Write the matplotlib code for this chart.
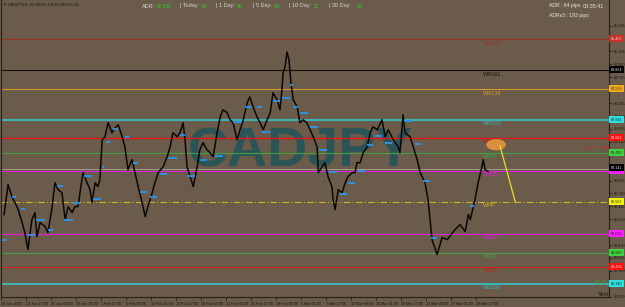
import matplotlib
matplotlib.use('Agg')
import matplotlib.pyplot as plt
from matplotlib.patches import Ellipse

# ---------------- data ----------------
bars = [8, 18, 28, 36, 44, 54, 61, 69, 79, 87, 92, 100, 113, 120, 131, 138, 146, 156, 164, 172,
        182, 189, 197, 207, 210, 220, 228, 233, 241, 248, 253, 259, 266, 274, 284, 292, 300, 310,
        317, 325, 335, 343, 351, 361, 369, 376, 387, 394, 402, 415, 425, 433, 440, 451, 458, 466,
        471, 476, 484, 492, 502, 509, 517, 527, 535, 543, 553, 561, 568, 579, 586, 594, 604, 612,
        620, 630, 637, 645, 655, 663, 671, 681, 689, 696, 707, 714, 719, 722, 727, 732, 737, 742,
        748, 758, 765, 773, 783, 791, 799, 809, 812, 822, 829, 837, 847, 850, 855, 863, 873, 881,
        888, 899, 906, 911, 919, 927, 937, 945, 952, 963, 975, 983, 991, 1004, 1016, 1021, 1029,
        1034, 1047, 1055, 1065, 1073, 1085, 1093, 1103, 1116, 1129, 1142, 1162, 1175, 1188, 1196,
        1201, 1213, 1221, 1231, 1234, 1239, 1247]
prices = [82.341, 82.863, 82.654, 82.550, 82.428, 82.202, 82.028, 81.732, 82.254, 82.376, 81.958,
          82.202, 82.132, 82.028, 82.480, 82.898, 82.776, 82.724, 82.254, 82.480, 82.376, 82.480,
          82.480, 82.950, 83.072, 82.898, 82.776, 82.550, 82.898, 82.828, 82.950, 83.646, 83.698,
          83.942, 83.768, 83.855, 83.907, 83.698, 83.524, 83.124, 83.298, 83.072, 82.828, 82.550,
          82.306, 82.480, 82.724, 82.898, 83.072, 83.176, 83.350, 83.524, 83.768, 83.698, 83.768,
          83.942, 83.646, 83.176, 83.002, 82.828, 83.176, 83.472, 83.594, 83.472, 83.420, 83.350,
          83.768, 84.046, 84.168, 84.116, 83.994, 83.942, 83.646, 83.820, 83.994, 84.290, 84.394,
          84.220, 84.046, 83.942, 83.820, 83.994, 84.116, 84.464, 84.342, 84.168, 84.516, 84.812,
          84.916, 85.177, 85.038, 84.638, 84.342, 84.220, 83.942, 83.994, 83.942, 83.820, 83.698,
          83.524, 83.072, 83.176, 83.246, 83.002, 82.828, 82.602, 82.428, 82.776, 82.724, 82.898,
          83.002, 83.072, 83.072, 83.246, 83.246, 83.420, 83.524, 83.768, 83.872, 83.820, 83.994,
          83.698, 83.820, 83.646, 83.524, 83.420, 84.081, 83.768, 83.698, 83.524, 83.298, 83.072,
          82.898, 82.602, 81.906, 81.645, 81.941, 81.906, 82.080, 82.167, 82.045, 82.341, 82.254,
          82.602, 82.898, 83.176, 83.298, 83.124, 83.089]

# daily open markers (blue dashes)
mark_start = [3, 28, 51, 69, 90, 120, 143, 161, 184, 212, 236, 259, 269, 287, 317, 338, 356, 381,
              407, 428, 458, 476, 509, 548, 594, 625, 655, 668, 696, 719, 740, 748, 765, 791, 814,
              840, 868, 888, 914, 937, 957, 983, 1032, 1060, 1080, 1100, 1201]
mark_end = [15, 38, 61, 87, 113, 133, 159, 184, 202, 233, 256, 264, 279, 300, 328, 351, 374, 399,
            425, 451, 471, 497, 527, 568, 617, 643, 668, 689, 714, 740, 748, 760, 786, 812, 835,
            860, 886, 906, 932, 952, 975, 1001, 1052, 1075, 1098, 1116, 1211]
mark_price = [81.906, 82.654, 82.445, 81.993, 82.254, 82.080, 82.846, 82.254, 82.550, 83.020,
              82.619, 83.176, 83.611, 83.837, 83.698, 83.246, 82.741, 82.654, 83.054, 83.333,
              83.733, 83.020, 83.298, 83.368, 83.959, 84.220, 84.220, 83.785, 84.325, 84.377,
              84.603, 84.220, 84.116, 83.872, 83.472, 83.089, 82.706, 82.898, 83.107, 83.559,
              83.716, 83.594, 83.977, 83.576, 82.933, 81.941, 82.498]

level_names = ['WR200', 'WR161', 'WR138', 'WR100', 'WR78', 'WR61', 'WR38', 'WPP',
               'WS38', 'WS61', 'WS78', 'WS100']
level_prices = [85.403, 84.864, 84.533, 83.994, 83.681, 83.420, 83.107, 82.567,
                82.010, 81.680, 81.436, 81.140]
level_colors = ['#9a3324', '#18120e', '#d99a2b', '#3cb3b0', '#e01818', '#45a043', '#e020d8',
                '#cdb51c', '#e020d8', '#4aa046', '#c8251d', '#38bcbc']
box_colors = ['#c8302a', '#000000', '#f0a81c', '#30e0e0', '#ff1010', '#40d040', '#ff20ff',
              '#f0f010', '#ff20ff', '#40d040', '#ff1010', '#30e0e0']
box_text = ['#f0d0d0', '#e0e0e0', '#403010', '#103030', '#ffe0e0', '#103010', '#401040',
            '#303010', '#401040', '#103010', '#ffe0e0', '#103030']
bid_price = 83.141

time_ticks = [0, 64, 128, 192, 256, 320, 384, 448, 512, 576, 640, 704, 768, 832, 896, 960,
              1024, 1088, 1152, 1216]
time_labels = ['18 Jan 2019', '22 Jan 17:00', '25 Jan 09:00', '30 Jan 01:00', '1 Feb 17:00',
               '6 Feb 09:00', '11 Feb 01:00', '13 Feb 17:00', '18 Feb 09:00', '21 Feb 01:00',
               '25 Feb 17:00', '28 Feb 09:00', '5 Mar 01:00', '7 Mar 17:00', '12 Mar 09:00',
               '15 Mar 01:00', '19 Mar 17:00', '22 Mar 09:00', '27 Mar 01:00', '29 Mar 17:00']
# visible price-scale labels (the others are covered by level boxes)
price_ticks = [85.635, 85.185, 84.960, 84.735, 84.285, 84.060, 83.835, 83.610,
               82.935, 82.710, 82.485, 82.260, 81.810, 81.585, 81.360, 80.910]

adr_items = [('ADR:', '42.5%'), ('| Today:', '29'), ('| 1 Day:', '80'), ('| 5 Day:', '68'),
             ('| 10 Day:', '71'), ('| 20 Day:', '62')]

# ---------------- figure ----------------
BG = '#6a5b4b'
W, H = 625, 307
fig = plt.figure(figsize=(W / 100, H / 100), dpi=100, facecolor=BG)
ax = fig.add_axes([1 / W, 10 / H, 608 / W, 297 / H], facecolor=BG)
ax.set_xlim(0, 1556)
ax.set_ylim(80.905, 86.082)

# watermark
ax.text(0.493, 0.485, 'CADJPY', transform=ax.transAxes, ha='center', va='center',
        fontsize=40, fontweight='bold', family='Liberation Sans', color='#2b5457', zorder=0.5)

# levels
lw_map = {'WR100': 1.5, 'WS100': 1.3, 'WR78': 1.0}
for name, p, c in zip(level_names, level_prices, level_colors):
    ls = (0, (6, 2, 1, 2)) if name == 'WPP' else '-'
    ax.axhline(p, color=c, lw=lw_map.get(name, 0.8), ls=ls, zorder=1)
    ax.annotate(name, xy=(1234, p), xytext=(0, -1.2), textcoords='offset points',
                ha='left', va='top', fontsize=4, family='Liberation Sans', color=c, zorder=3)
ax.axhline(bid_price, color='#a39a8c', lw=0.7, zorder=1)

# price
ax.plot(bars, prices, color='#0a0806', lw=1.1, zorder=2)

# blue markers
for s, e, p in zip(mark_start, mark_end, mark_price):
    ax.plot([s, e], [p, p], color='#2a96f0', lw=1.3, solid_capstyle='butt', zorder=2.5)

# projection ellipse + line
ax.add_patch(Ellipse((1267, 83.56), 46, 0.17, color='#e0943c', alpha=0.95, zorder=3))
ax.plot([1277, 1316], [83.54, 82.567], color='#f0e020', lw=0.9, zorder=3)
ax.plot([1482, 1548], [83.524, 83.524], color='#e02020', lw=0.6, ls=(0, (1.5, 1.5)), zorder=3)
ax.plot([1550], [83.524], marker='|', color='#e02020', ms=2.5, zorder=3)

# right-axis boxes
box_y = level_prices + [bid_price + 0.02]
for p, lab, bc, tc in zip(box_y, level_prices + [bid_price], box_colors + ['#000000'],
                          box_text + ['#e0e0e0']):
    ax.annotate(f'{lab:.3f}', xy=(1.003, p), xycoords=('axes fraction', 'data'),
                ha='left', va='center', fontsize=2.7, family='Liberation Sans', color=tc,
                bbox=dict(boxstyle='square,pad=0.4', fc=bc, ec='none'), annotation_clip=False,
                zorder=4)

ax.text(1534, 81.14, '0.0', ha='center', va='center', fontsize=6, family='Liberation Sans',
        color='#45a043', zorder=3)
ax.text(1528, 80.95, 'Text', ha='left', va='center', fontsize=4.5, family='Liberation Sans',
        color='#1a1410', zorder=3)

# axes styling
ax.spines['top'].set_visible(False)
for s in ['left', 'right', 'bottom']:
    ax.spines[s].set_color('#2a2018')
    ax.spines[s].set_linewidth(0.8)
ax.yaxis.tick_right()
ax.set_yticks(price_ticks)
ax.set_yticklabels([f'{v:.3f}' for v in price_ticks])
ax.tick_params(axis='y', length=2, width=0.5, pad=1.5, labelsize=2.7, colors='#1a1410')
ax.set_xticks(time_ticks)
ax.set_xticklabels(time_labels)
for lab in ax.get_xticklabels():
    lab.set_ha('left')
    lab.set_family('Liberation Sans')
for lab in ax.get_yticklabels():
    lab.set_family('Liberation Sans')
ax.tick_params(axis='x', length=2, width=0.5, pad=1.5, labelsize=2.7, colors='#1a1410')

# top texts
fig.text(3 / W, 1 - 5 / H, '\u25bc CADJPY,H1  83.106 83.128 83.085 83.146', fontsize=2.7,
         family=['Liberation Sans', 'DejaVu Sans'], color='#1a1410', va='center', ha='left')
xs = [(142, 156), (180, 201), (216, 237), (253, 274), (289, 313), (329, 357)]
for (lab, val), (x1, x2) in zip(adr_items, xs):
    fig.text(x1 / W, 1 - 6 / H, lab, fontsize=4, family='Liberation Sans', color='#d8d8d8',
             va='center', ha='left')
    fig.text(x2 / W, 1 - 6 / H, val, fontsize=4, family='Liberation Sans', color='#28d028',
             va='center', ha='left')
fig.text(549 / W, 1 - 6 / H, 'ADR : 64 pips', fontsize=3.7, family='Liberation Sans',
         color='#e8e8e8', va='center', ha='left')
fig.text(583 / W, 1 - 6 / H, '00:35:41', fontsize=3.9, family='Liberation Sans',
         color='#e8e8e8', va='center', ha='left')
fig.text(549 / W, 1 - 16 / H, 'ADRx3 : 193 pips', fontsize=3.7, family='Liberation Sans',
         color='#e8e8e8', va='center', ha='left')

fig.savefig('out.png', dpi=100, facecolor=BG)
